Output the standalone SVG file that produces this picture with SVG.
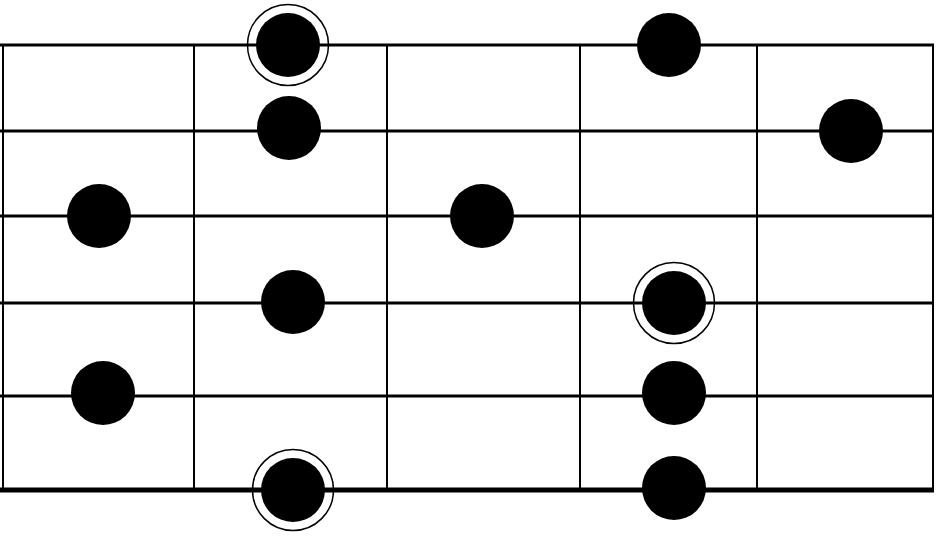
<svg xmlns="http://www.w3.org/2000/svg" width="936" height="538" viewBox="0 0 936 538">
<style>
.str{stroke:#000;stroke-width:3;fill:none}
.fret{stroke:#000;stroke-width:2;fill:none}
.dot{fill:#000}
.ring{fill:none;stroke:#000;stroke-width:1.5}
</style>
<rect width="936" height="538" fill="#fff"/>
<g id="frets">
<line class="fret" x1="3" y1="45" x2="3" y2="490"/>
<line class="fret" x1="194" y1="45" x2="194" y2="490"/>
<line class="fret" x1="387" y1="45" x2="387" y2="490"/>
<line class="fret" x1="580" y1="45" x2="580" y2="490"/>
<line class="fret" x1="757" y1="45" x2="757" y2="490"/>
<line class="fret" x1="933" y1="45" x2="933" y2="490"/>
</g>
<g id="strings">
<line class="str" x1="0" y1="45" x2="934" y2="45"/>
<line class="str" x1="0" y1="131" x2="934" y2="131"/>
<line class="str" x1="0" y1="216" x2="934" y2="216"/>
<line class="str" x1="0" y1="303" x2="934" y2="303"/>
<line class="str" x1="0" y1="396" x2="934" y2="396"/>
<line class="str" x1="0" y1="490" x2="934" y2="490" style="stroke-width:5"/>
</g>
<g id="dots">
<g id="n1"><circle class="ring" cx="288" cy="45" r="40.5"/><circle class="dot" cx="288" cy="45" r="32"/></g>
<g id="n2"><circle class="dot" cx="289" cy="128" r="32"/></g>
<g id="n3"><circle class="dot" cx="99" cy="216" r="32"/></g>
<g id="n4"><circle class="dot" cx="482" cy="216" r="32"/></g>
<g id="n5"><circle class="dot" cx="293" cy="302" r="32"/></g>
<g id="n6"><circle class="dot" cx="103" cy="393" r="32"/></g>
<g id="n7"><circle class="ring" cx="293" cy="490" r="40.5"/><circle class="dot" cx="293" cy="490" r="32"/></g>
<g id="n8"><circle class="dot" cx="669" cy="45" r="32"/></g>
<g id="n9"><circle class="dot" cx="851" cy="131" r="32"/></g>
<g id="n10"><circle class="ring" cx="674" cy="303" r="40.5"/><circle class="dot" cx="674" cy="303" r="32"/></g>
<g id="n11"><circle class="dot" cx="674" cy="393" r="32"/></g>
<g id="n12"><circle class="dot" cx="674" cy="488" r="32"/></g>
</g>
</svg>
